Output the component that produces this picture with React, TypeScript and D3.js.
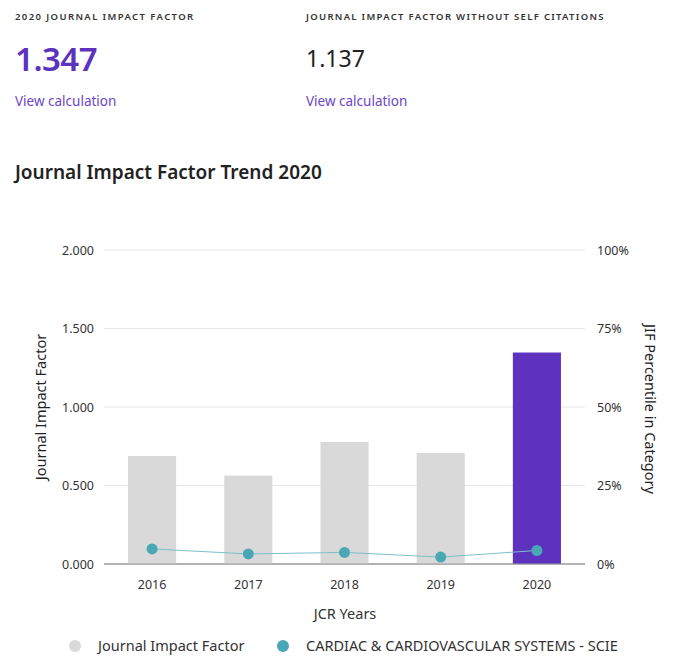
import React from "react";
import * as d3 from "d3";

const years = ["2016", "2017", "2018", "2019", "2020"];
const jifValues = [0.688, 0.563, 0.777, 0.707, 1.347];
const percentileValues = [4.8, 3.2, 3.7, 2.2, 4.3];
const leftTicks = [0, 0.5, 1, 1.5, 2];
const rightTicks = [0, 25, 50, 75, 100];
const categoryName = "CARDIAC & CARDIOVASCULAR SYSTEMS - SCIE";

const W = 680, H = 667;
const FONT = "'Noto Sans', 'Open Sans', sans-serif";
const PURPLE = "#5c32be";
const TEAL = "#4aa7b6";

export default function App() {
  const x0 = 104, x1 = 585, yTop = 250, yBot = 564;
  const x = d3.scaleBand<string>().domain(years).range([x0, x1]).paddingInner(0.5).paddingOuter(0.25);
  const yL = d3.scaleLinear().domain([0, 2]).range([yBot, yTop]);
  const yR = d3.scaleLinear().domain([0, 100]).range([yBot, yTop]);
  const line = d3.line<number>()
    .x((_, i) => (x(years[i]) as number) + x.bandwidth() / 2)
    .y((d) => yR(d));
  const fmt = d3.format(".3f");

  return (
    <svg width={W} height={H} style={{ position: "absolute", left: 0, top: 0, background: "#fff" }} fontFamily={FONT}>
      {/* header */}
      <text x={15} y={20} fontSize={9.5} fontWeight={600} letterSpacing={1.4} fill="#333">2020 JOURNAL IMPACT FACTOR</text>
      <text x={15} y={71} fontSize={33} fontWeight={600} fill={PURPLE} letterSpacing={-0.5}>1.347</text>
      <text x={15} y={106} fontSize={13.5} fill="#6b46c8">View calculation</text>
      <text x={306} y={20} fontSize={9.5} fontWeight={600} letterSpacing={1.3} fill="#333">JOURNAL IMPACT FACTOR WITHOUT SELF CITATIONS</text>
      <text x={306} y={67} fontSize={23} fill="#222">1.137</text>
      <text x={306} y={106} fontSize={13.5} fill="#6b46c8">View calculation</text>
      <text x={15} y={179} fontSize={19} fontWeight={600} fill="#222">Journal Impact Factor Trend 2020</text>

      {/* grid */}
      {leftTicks.map((t) => (
        <line key={t} x1={x0} x2={x1} y1={yL(t)} y2={yL(t)} stroke={t === 0 ? "#999" : "#e6e6e6"} strokeWidth={1} />
      ))}
      {leftTicks.map((t) => (
        <text key={"l" + t} x={94} y={yL(t) + 4.5} textAnchor="end" fontSize={12.5} fill="#333">{fmt(t)}</text>
      ))}
      {rightTicks.map((t) => (
        <text key={"r" + t} x={597} y={yR(t) + 4.5} textAnchor="start" fontSize={12.5} fill="#333">{t + "%"}</text>
      ))}

      {/* bars */}
      {jifValues.map((v, i) => (
        <rect key={i} x={x(years[i])} y={yL(v)} width={x.bandwidth()} height={yBot - yL(v)}
          fill={i === years.length - 1 ? PURPLE : "#d9d9d9"} />
      ))}
      <line x1={x0} x2={x1} y1={yBot} y2={yBot} stroke="#999" strokeWidth={1} />

      {/* line */}
      <path d={line(percentileValues) || ""} fill="none" stroke="#7cc0cc" strokeWidth={1} />
      {percentileValues.map((v, i) => (
        <circle key={i} cx={(x(years[i]) as number) + x.bandwidth() / 2} cy={yR(v)} r={5.5} fill={TEAL} />
      ))}

      {/* x labels */}
      {years.map((yv) => (
        <text key={yv} x={(x(yv) as number) + x.bandwidth() / 2} y={589} textAnchor="middle" fontSize={12.5} fill="#333">{yv}</text>
      ))}
      <text x={345} y={619} textAnchor="middle" fontSize={14.5} fill="#333">JCR Years</text>
      <text transform={`translate(46,${(yTop + yBot) / 2}) rotate(-90)`} textAnchor="middle" fontSize={14.5} fill="#222">Journal Impact Factor</text>
      <text transform={`translate(645,${(yTop + yBot) / 2 + 2}) rotate(90)`} textAnchor="middle" fontSize={14.5} fill="#222">JIF Percentile in Category</text>

      {/* legend */}
      <circle cx={75} cy={646} r={6} fill="#d9d9d9" />
      <text x={98} y={651} fontSize={14.5} fill="#333">Journal Impact Factor</text>
      <circle cx={283} cy={646} r={6} fill={TEAL} />
      <text x={306} y={651} fontSize={14.5} fill="#333">{categoryName}</text>
    </svg>
  );
}
